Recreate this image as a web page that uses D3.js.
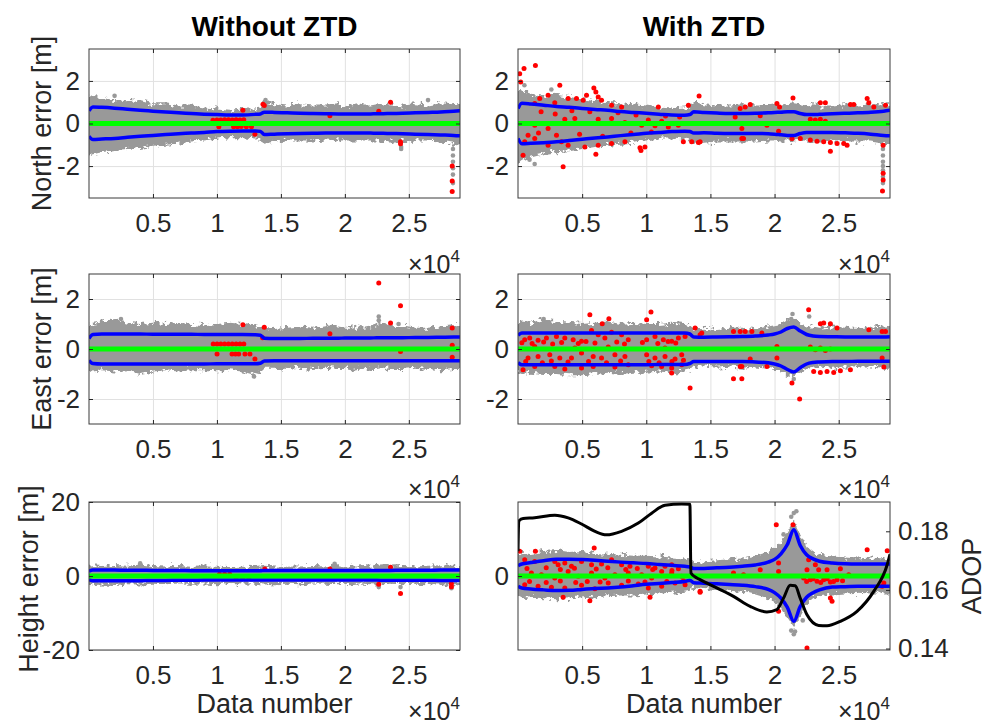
<!DOCTYPE html>
<html>
<head>
  <meta charset="utf-8">
  <title>Position errors with and without ZTD</title>
  <style>
    body { margin: 0; background: #fff; }
  </style>
</head>
<body>
  <script src="https://d3js.org/d3.v7.min.js"></script>
  <script>
    // ---- data ----
    var titles = ['Without ZTD', 'With ZTD'];
    var yLabels = ['North error [m]', 'East error [m]', 'Height error [m]'];
    var xTicks = [5000, 10000, 15000, 20000, 25000];
    var xTickLabels = ['0.5', '1', '1.5', '2', '2.5'];
    var adopTicks = [0.14, 0.16, 0.18];

    // data numbers where the envelopes / bounds were read
    var knots = [0, 300, 1000, 2000, 3000, 4000, 5000, 6000, 7000, 8000,
      9000, 10000, 11000, 12000, 13000, 13400, 13700, 14500, 15500, 16500,
      17500, 18500, 19500, 20000, 20500, 21000, 21500, 22000, 22500, 23000,
      23500, 24500, 25500, 26500, 27500, 28500, 29000];

    // North, without ZTD
    var northNoGrayUp = [1.3, 1.25, 1.2, 1.1, 1.05, 1.1, 0.95, 0.95, 0.85, 0.85,
      0.75, 0.7, 0.65, 0.7, 0.7, 0.75, 1.05, 0.9, 0.85, 0.9,
      0.85, 0.85, 0.9, 0.8, 0.85, 0.9, 0.85, 0.85, 0.9, 0.85,
      0.9, 0.85, 0.9, 0.85, 0.95, 0.9, 0.9];
    var northNoGrayLo = [-1.5, -1.45, -1.35, -1.25, -1.2, -1.15, -1.05, -1.0, -0.95, -0.85,
      -0.8, -0.7, -0.65, -0.65, -0.7, -0.7, -0.95, -0.85, -0.8, -0.8,
      -0.8, -0.75, -0.8, -0.8, -0.8, -0.8, -0.8, -0.8, -0.8, -0.8,
      -0.85, -0.85, -0.8, -0.8, -0.85, -0.95, -1.0];
    var northNoBlueUp = [0.6, 0.78, 0.76, 0.72, 0.67, 0.62, 0.58, 0.54, 0.5, 0.47,
      0.44, 0.42, 0.4, 0.4, 0.43, 0.45, 0.53, 0.52, 0.5, 0.48,
      0.47, 0.46, 0.45, 0.45, 0.45, 0.45, 0.45, 0.45, 0.46, 0.46,
      0.47, 0.48, 0.5, 0.52, 0.54, 0.58, 0.6];
    var northNoBlueLo = [-0.6, -0.75, -0.73, -0.7, -0.65, -0.6, -0.56, -0.52, -0.48, -0.45,
      -0.42, -0.38, -0.36, -0.35, -0.35, -0.37, -0.52, -0.5, -0.48, -0.47,
      -0.46, -0.45, -0.45, -0.45, -0.45, -0.45, -0.45, -0.45, -0.46, -0.46,
      -0.47, -0.48, -0.5, -0.52, -0.54, -0.56, -0.58];
    var northNoGrayOut = [[2000, 1.3], [13800, 1.1], [26500, 1.1], [24400, -1.1], [24400, -1.2],
      [28450, -1.2], [28450, -1.5], [28450, -1.8], [28450, -2.1], [28450, -2.4], [28450, -2.8]];
    var northNoRed = [[9690, 0.15], [10000, 0.17], [10300, 0.17], [10600, 0.18], [10900, 0.18],
      [11200, 0.17], [11500, 0.18], [11800, 0.17], [12100, 0.18], [10150, -0.15], [11300, -0.15],
      [11600, -0.15], [11900, -0.14], [12300, -0.15], [12700, -0.15], [12030, 0.62], [13600, 0.9],
      [13700, 0.85], [12970, -0.5], [18830, 0.36], [22650, 0.58], [23570, 1.0], [24350, -0.86],
      [24350, -0.95], [28390, -2.0], [28390, -2.7], [28390, -3.2]];

    // North, with ZTD
    var northZtdGrayUp = [1.6, 1.55, 1.4, 1.3, 1.35, 1.25, 1.15, 1.05, 0.95, 0.95,
      0.9, 0.85, 0.75, 0.7, 0.75, 0.8, 1.0, 0.9, 0.85, 0.85,
      0.9, 0.85, 0.85, 0.9, 0.9, 0.9, 0.95, 0.9, 0.85, 0.9,
      0.85, 0.85, 0.9, 0.85, 0.9, 0.9, 0.9];
    var northZtdGrayLo = [-1.9, -1.75, -1.6, -1.45, -1.35, -1.3, -1.2, -1.1, -1.0, -0.95,
      -0.9, -0.8, -0.7, -0.7, -0.75, -0.8, -0.95, -0.9, -0.85, -0.85,
      -0.85, -0.85, -0.8, -0.8, -0.85, -0.85, -0.85, -0.8, -0.8, -0.85,
      -0.85, -0.85, -0.85, -0.85, -0.85, -0.95, -1.0];
    var northZtdBlueUp = [0.7, 0.95, 0.92, 0.86, 0.8, 0.76, 0.71, 0.66, 0.62, 0.56,
      0.52, 0.48, 0.44, 0.4, 0.39, 0.42, 0.55, 0.52, 0.49, 0.47,
      0.47, 0.48, 0.5, 0.52, 0.53, 0.55, 0.55, 0.47, 0.42, 0.42,
      0.43, 0.46, 0.48, 0.5, 0.53, 0.58, 0.62];
    var northZtdBlueLo = [-0.7, -0.95, -0.93, -0.9, -0.86, -0.8, -0.74, -0.68, -0.63, -0.57,
      -0.52, -0.46, -0.42, -0.38, -0.36, -0.38, -0.45, -0.44, -0.46, -0.47,
      -0.47, -0.47, -0.48, -0.5, -0.53, -0.56, -0.56, -0.47, -0.42, -0.42,
      -0.42, -0.42, -0.44, -0.46, -0.5, -0.56, -0.58];
    var northZtdGrayOut = [[500, 1.8], [1300, -1.9], [900, -1.7], [2600, 1.6],
      [28450, -1.2], [28450, -1.5], [28450, -1.8], [28450, -2.0], [28450, -2.2], [28450, -2.5], [28450, -2.8]];
    var northZtdRed = [[133, 2.34], [471, 2.58], [1357, 2.73], [211, 1.95], [3258, 1.8], [5914, 1.67],
      [6070, 1.48], [14117, 1.29], [3518, -2.03], [6070, -1.45], [9508, -1.14], [9586, -1.27], [393, -1.49],
      [1305, 0.94], [1695, 1.17], [2867, 0.97], [3909, 1.17], [4560, 1.17], [5081, 1.09], [6513, 1.09],
      [7294, 0.86], [8076, 0.78], [10940, 0.78], [13284, 0.86], [2346, 1.33], [5341, 1.33], [6253, 1.25],
      [3648, 0.2], [4430, 0.24], [6253, 0.2], [7294, 0.24], [8336, 0.05], [9638, -0.08], [10680, -0.11],
      [11720, -0.16], [12500, -0.08], [10159, 0.16], [11200, 0.11], [2346, -0.23], [1305, -0.08],
      [784, -0.55], [1305, -0.7], [2346, -1.02], [3388, -0.86], [3909, -1.02], [5211, -1.1], [6253, -1.02],
      [7294, -0.94], [8336, -0.86], [9898, -1.1], [12890, -0.86], [13540, -0.86], [14065, -0.89], [523, -0.86],
      [1800, 0.55], [2900, 0.45], [4200, 0.6], [5600, 0.55], [7800, 0.5], [9200, 0.4], [11500, 0.35],
      [12600, 0.3], [1600, -0.45], [3000, -0.55], [4800, -0.5], [6600, -0.6], [8800, -0.45], [10400, -0.4],
      [21438, 1.2], [27219, 1.17], [27349, 0.98], [23570, 0.98], [23961, 0.98], [18102, 0.89], [17711, 0.78],
      [17320, 0.7], [20185, 0.94], [20393, 0.78], [25914, 0.89], [26175, 0.89], [27740, 0.78], [28651, 0.86],
      [18883, 0.36], [16929, 0.3], [22789, 0.2], [23180, 0.16], [23570, 0.2], [23961, 0.11], [19403, -0.08],
      [17450, -0.23], [17450, -0.7], [17580, -0.7], [20315, -0.36], [21357, -0.7], [22008, -0.7],
      [22789, -0.78], [23310, -0.83], [23831, -0.86], [24352, -0.89], [24872, -0.94], [25393, -0.94],
      [24352, -1.3], [25653, -1.02], [14195, -0.86], [28466, -1.02], [28466, -2.34], [28466, -2.66], [28414, -3.17]];

    // East, without ZTD
    var eastNoGrayUp = [1.0, 1.05, 1.1, 1.2, 1.05, 1.0, 1.05, 1.0, 1.05, 1.0,
      0.95, 1.0, 1.05, 1.0, 0.95, 0.9, 0.85, 0.8, 0.85, 0.9,
      0.85, 0.95, 0.9, 0.85, 0.85, 0.9, 0.85, 0.9, 1.0, 1.1,
      0.9, 0.95, 0.85, 0.85, 0.9, 0.95, 0.95];
    var eastNoGrayLo = [-0.85, -0.9, -0.85, -0.9, -0.85, -1.0, -0.9, -0.85, -0.9, -0.85,
      -0.85, -0.85, -0.85, -0.9, -1.05, -0.9, -0.75, -0.75, -0.8, -0.75,
      -0.8, -0.75, -0.8, -0.8, -0.85, -0.8, -0.75, -0.8, -0.8, -0.75,
      -0.8, -0.8, -0.75, -0.8, -0.85, -0.8, -0.8];
    var eastNoBlueUp = [0.42, 0.58, 0.6, 0.6, 0.6, 0.6, 0.59, 0.59, 0.59, 0.59,
      0.58, 0.58, 0.58, 0.58, 0.57, 0.55, 0.43, 0.42, 0.42, 0.42,
      0.43, 0.43, 0.43, 0.44, 0.44, 0.44, 0.44, 0.44, 0.45, 0.45,
      0.45, 0.45, 0.46, 0.46, 0.47, 0.48, 0.48];
    var eastNoBlueLo = [-0.45, -0.58, -0.6, -0.6, -0.6, -0.6, -0.6, -0.6, -0.6, -0.6,
      -0.6, -0.59, -0.59, -0.59, -0.59, -0.57, -0.48, -0.47, -0.47, -0.47,
      -0.47, -0.47, -0.47, -0.47, -0.47, -0.47, -0.47, -0.47, -0.47, -0.47,
      -0.47, -0.47, -0.47, -0.47, -0.47, -0.47, -0.47];
    var eastNoGrayOut = [[22650, 1.3], [22650, 1.15], [12900, -1.1], [24200, 1.0], [2500, 1.2]];
    var eastNoRed = [[9710, 0.2], [10010, 0.2], [10300, 0.2], [10600, 0.2], [10900, 0.2], [11200, 0.2],
      [11500, 0.2], [11800, 0.2], [12100, 0.2], [10010, -0.2], [11180, -0.2], [11450, -0.2], [11700, -0.2],
      [12190, -0.2], [12580, -0.2], [12970, -0.4], [12030, 0.97], [13700, 0.87], [13570, 0.45], [18830, 0.61],
      [22650, 2.64], [23570, 1.04], [24350, 1.73], [24350, -0.1], [28390, 0.84], [28390, 0.15], [28390, -0.33]];

    // East, with ZTD
    var eastZtdGrayUp = [1.05, 1.1, 1.05, 1.2, 1.1, 1.05, 1.0, 1.05, 1.1, 1.0,
      1.05, 1.0, 1.0, 1.05, 1.0, 0.95, 0.8, 0.85, 0.8, 0.85,
      0.85, 0.8, 0.9, 0.95, 1.0, 1.15, 1.25, 1.05, 0.9, 0.9,
      0.85, 0.9, 0.85, 0.85, 0.85, 0.9, 0.9];
    var eastZtdGrayLo = [-0.95, -1.0, -0.95, -1.0, -1.0, -1.05, -1.05, -1.0, -0.95, -1.0,
      -0.95, -0.95, -0.9, -0.95, -0.9, -0.85, -0.7, -0.7, -0.75, -0.7,
      -0.75, -0.7, -0.75, -0.8, -0.9, -1.05, -1.1, -0.95, -0.8, -0.75,
      -0.7, -0.75, -0.7, -0.7, -0.7, -0.75, -0.75];
    var eastZtdBlueUp = [0.55, 0.64, 0.64, 0.64, 0.64, 0.64, 0.64, 0.64, 0.64, 0.64,
      0.64, 0.64, 0.64, 0.64, 0.64, 0.6, 0.48, 0.47, 0.48, 0.49,
      0.5, 0.52, 0.56, 0.6, 0.68, 0.82, 0.88, 0.72, 0.58, 0.52,
      0.5, 0.49, 0.48, 0.48, 0.48, 0.48, 0.49];
    var eastZtdBlueLo = [-0.55, -0.63, -0.63, -0.63, -0.63, -0.63, -0.63, -0.63, -0.63, -0.63,
      -0.63, -0.63, -0.62, -0.62, -0.62, -0.58, -0.5, -0.5, -0.5, -0.5,
      -0.5, -0.52, -0.55, -0.6, -0.68, -0.82, -0.92, -0.75, -0.6, -0.54,
      -0.52, -0.5, -0.5, -0.49, -0.49, -0.49, -0.49];
    var eastZtdGrayOut = [[21300, 1.2], [21400, 1.4], [21500, -1.2], [22700, 1.3], [2000, 1.2]];
    var eastZtdRed = [[5602, 1.37], [10367, 1.48], [6565, 1.01], [7086, 1.21], [10028, 1.17], [13414, -1.56],
      [11982, -0.96], [13805, 0.84], [14195, 0.57],
      [523, 0.37], [914, 0.44], [1565, 0.35], [2216, 0.44], [2997, 0.5], [3648, 0.44], [4300, 0.37],
      [4951, 0.31], [5732, 0.74], [6253, 0.57], [6773, 0.44], [7294, 0.67], [8076, 0.57], [8596, 0.37],
      [10028, 0.37], [10680, 0.5], [11331, 0.37], [11982, 0.31], [12503, 0.44], [13024, 0.5],
      [784, -0.36], [1565, -0.3], [2477, -0.23], [3258, -0.36], [4170, -0.36], [4951, -0.16], [5862, -0.3],
      [6513, -0.36], [7555, -0.23], [8336, -0.3], [10028, -0.23], [10680, -0.36], [11461, -0.3],
      [12242, -0.4], [12763, -0.23],
      [393, -0.83], [1305, -0.7], [2867, -0.7], [3648, -0.8], [4951, -0.76], [5862, -0.7], [7555, -0.72],
      [8596, -0.63], [10419, -0.67], [11200, -0.7], [11982, -0.76], [12763, -0.63],
      [1305, 0.1], [4430, 0.04], [7034, 0.08], [11461, 0.04],
      [300, 0.25], [1100, 0.22], [2000, 0.28], [2700, 0.2], [3400, 0.26], [4700, 0.22], [5300, 0.3],
      [6000, 0.24], [7700, 0.28], [8300, 0.2], [9700, 0.26], [10900, 0.22], [11700, 0.3], [12300, 0.24],
      [600, -0.5], [1900, -0.55], [2600, -0.48], [3900, -0.52], [5500, -0.5], [6900, -0.55], [8000, -0.48],
      [10200, -0.5], [11000, -0.55], [12000, -0.5], [12900, -0.45],
      [22659, 1.57], [23570, 1.01], [23831, 1.04], [24352, 1.01], [24872, 0.84], [16799, 0.7], [17320, 0.7],
      [17711, 0.7], [18232, 0.7], [19013, 0.64], [28387, 0.7], [28648, 0.7], [27349, 0.77], [14325, 0.64],
      [20185, 0.1], [22789, 0.08], [23180, -0.03], [23570, 0.04], [23961, -0.06], [24352, 0.0],
      [18102, -0.4], [20185, -0.36], [17320, -0.7], [17450, -0.7], [19403, -0.7], [16799, -1.19],
      [17450, -1.19], [23050, -0.9], [23570, -0.94], [24091, -0.9], [24612, -0.94], [25132, -0.87],
      [25914, -0.83], [21357, -1.36], [21956, -2.0], [28387, -0.36], [28518, -0.72]];

    // Height, without ZTD
    var heightNoGrayUp = [2.8, 2.9, 2.7, 3.0, 2.8, 3.1, 2.7, 2.6, 2.7, 2.5,
      2.6, 2.5, 2.4, 2.5, 2.4, 2.6, 2.8, 2.6, 2.5, 2.6,
      2.7, 2.6, 2.9, 2.6, 2.5, 2.6, 2.7, 2.5, 2.8, 2.9,
      2.6, 2.7, 2.6, 2.8, 2.9, 2.8, 2.7];
    var heightNoGrayLo = [-2.4, -2.5, -2.3, -2.4, -2.2, -2.3, -2.1, -2.2, -2.0, -2.1,
      -2.0, -2.2, -1.9, -2.0, -2.1, -2.2, -2.3, -2.2, -2.1, -2.2,
      -2.0, -2.1, -2.2, -2.1, -2.2, -2.0, -2.1, -2.2, -2.3, -2.2,
      -2.1, -2.2, -2.1, -2.2, -2.3, -2.2, -2.2];
    var heightNoBlueUp = [1.3, 1.6, 1.6, 1.6, 1.55, 1.55, 1.5, 1.5, 1.5, 1.45,
      1.45, 1.4, 1.4, 1.4, 1.4, 1.4, 1.5, 1.5, 1.5, 1.5,
      1.5, 1.5, 1.5, 1.5, 1.5, 1.5, 1.5, 1.5, 1.5, 1.5,
      1.5, 1.55, 1.55, 1.55, 1.6, 1.6, 1.6];
    var heightNoBlueLo = [-1.0, -1.3, -1.3, -1.3, -1.25, -1.25, -1.2, -1.2, -1.15, -1.15,
      -1.1, -1.1, -1.05, -1.05, -1.05, -1.05, -1.1, -1.1, -1.1, -1.1,
      -1.1, -1.1, -1.1, -1.1, -1.1, -1.1, -1.1, -1.1, -1.1, -1.15,
      -1.15, -1.15, -1.15, -1.15, -1.2, -1.2, -1.2];
    var heightNoGrayOut = [[22650, -3.0], [24350, -3.0], [19200, 3.3], [28330, -3.3], [4000, 3.4]];
    var heightNoRed = [[13750, 1.9], [18830, 1.9], [23570, 2.35], [22650, -2.2], [24350, -4.7],
      [28330, -2.0], [28330, -2.9], [10200, 0.5], [10600, 0.5], [11000, 0.5], [11500, -0.5],
      [12000, -0.5], [12500, -0.5]];

    // Height, with ZTD
    var heightZtdGrayUp = [2.3, 2.6, 2.5, 2.7, 2.8, 2.6, 2.7, 2.5, 2.4, 2.3,
      2.2, 2.2, 2.1, 2.0, 1.9, 1.8, 1.5, 1.6, 1.7, 1.8,
      1.9, 2.2, 2.6, 3.0, 3.6, 4.8, 6.0, 4.5, 3.2, 2.6,
      2.3, 2.1, 2.0, 1.9, 2.0, 1.9, 1.9];
    var heightZtdGrayLo = [-2.2, -2.4, -2.3, -2.4, -2.5, -2.4, -2.3, -2.3, -2.2, -2.1,
      -2.1, -2.0, -1.9, -1.8, -1.7, -1.6, -1.3, -1.4, -1.5, -1.6,
      -1.7, -2.0, -2.4, -2.8, -3.4, -4.6, -5.6, -4.3, -3.0, -2.4,
      -2.2, -2.0, -1.9, -1.8, -1.9, -1.9, -1.9];
    var heightZtdBlueUp = [1.1, 1.3, 1.45, 1.65, 1.8, 1.82, 1.78, 1.7, 1.6, 1.5,
      1.42, 1.35, 1.25, 1.15, 1.05, 0.98, 0.82, 0.82, 0.88, 0.95,
      1.05, 1.2, 1.5, 1.8, 2.4, 3.4, 5.0, 3.3, 2.3, 1.85,
      1.6, 1.4, 1.32, 1.3, 1.3, 1.3, 1.3];
    var heightZtdBlueLo = [-1.1, -1.3, -1.4, -1.5, -1.58, -1.55, -1.45, -1.35, -1.3, -1.2,
      -1.05, -0.9, -0.8, -0.7, -0.6, -0.45, -0.72, -0.78, -0.85, -0.92,
      -1.0, -1.15, -1.45, -1.8, -2.4, -3.4, -4.9, -3.3, -2.3, -1.8,
      -1.5, -1.2, -1.15, -1.1, -1.1, -1.1, -1.1];
    var heightZtdGrayOut = [[21500, 6.8], [21700, 7.0], [21300, 6.4], [21500, -6.3], [21300, -5.9],
      [20700, 4.5], [22200, -4.8], [21600, -6.0]];
    var heightZtdRed = [[5940, 3.03], [1357, 2.67], [133, 2.67],
      [523, 1.76], [1305, 1.58], [2867, 1.58], [3128, 1.22], [3648, 1.4], [4170, 1.05], [4951, 1.58],
      [5732, 1.22], [6513, 1.3], [7294, 1.76], [8076, 1.22], [8727, 1.05], [10159, 1.05], [10680, 0.86],
      [11461, 1.05], [11982, 1.22], [12503, 0.79],
      [1044, 0.32], [1825, 0.14], [2867, -0.22], [3909, 0.5], [4690, -0.04], [5732, 0.32], [6773, -0.22],
      [7555, 0.14], [8596, 0.32], [9638, 0.14], [10419, -0.22], [11200, 0.5], [11982, 0.32], [12763, -0.04],
      [523, -0.94], [1565, -1.12], [2607, -1.22], [3648, -1.3], [4951, -1.01], [5992, -1.37], [7034, -0.76],
      [8076, -1.01], [9378, -0.86], [10159, -1.3], [11200, -1.12], [12242, -0.76], [13024, -0.94],
      [700, 0.8], [2200, 0.9], [3300, 0.7], [4400, 0.85], [6100, 0.75], [7000, 0.9], [8400, 0.7],
      [9300, 0.8], [10500, 0.7], [12000, 0.6], [900, -0.6], [2200, -0.7], [3300, -0.55], [4500, -0.7],
      [5400, -0.6], [6400, -0.65], [8600, -0.55], [9900, -0.65], [11600, -0.6], [12900, -0.5],
      [3518, -2.3], [5602, -2.67], [10289, -2.3], [14195, -1.76],
      [20133, 5.55], [21435, 5.55], [27219, 2.85], [28782, 2.74], [22659, 1.76], [18883, 0.68], [20315, 1.4],
      [20315, 0.5], [22529, 0.68], [23180, 1.22], [23440, 0.68], [24091, 0.68], [25132, 0.79],
      [22268, -0.22], [22789, -0.4], [23310, -0.58], [23831, -0.4], [24352, -0.65], [24872, -0.4],
      [22500, -0.6], [23000, -0.3], [23600, -0.7], [24100, -0.3], [24600, -0.6], [25300, -0.5],
      [14195, -1.66], [24352, -2.38], [24482, -2.74], [20315, -3.82], [22529, -7.78], [16799, 0.32],
      [17580, 0.14], [25784, 0.14], [28387, -1.12], [28518, -0.76]];

    // ADOP (right axis of the height / with ZTD panel)
    var adopX = [0, 60, 400, 1300, 2870, 3910, 4950, 6000, 6900, 8070,
      9380, 10420, 11460, 12760, 13400, 13480, 13940, 14190, 15490, 16800,
      18100, 19400, 20180, 20700, 21220, 21610, 22000, 22530, 23440, 24090,
      25130, 26430, 27730, 28780, 29000];
    var adopY = [0.1732, 0.1835, 0.1844, 0.1846, 0.1855, 0.1846, 0.1825, 0.18, 0.1788, 0.18,
      0.1828, 0.1862, 0.1889, 0.1893, 0.1892, 0.1658, 0.1641, 0.1635, 0.1607, 0.1578,
      0.1544, 0.1525, 0.1533, 0.1572, 0.1616, 0.1614, 0.1572, 0.1515, 0.1479, 0.1478,
      0.1493, 0.1527, 0.1595, 0.1686, 0.1722];

    // ---- layout ----
    var FONT = '"Liberation Sans", Arial, Helvetica, sans-serif';
    var INK = '#262626';
    var width = 986, height = 726;
    var colX = [[89, 460], [518, 890]];
    var rowY = [[49, 198], [274, 424], [502, 650]];
    var labelX = [51, 51, 38];
    var expY = [273, 498, 720];
    var xDomain = [0, 29000];

    var panels = [
      { c: 0, r: 0, yDom: [-3.5, 3.5], yTicks: [-2, 0, 2], up: northNoGrayUp, lo: northNoGrayLo, bUp: northNoBlueUp, bLo: northNoBlueLo, out: northNoGrayOut, red: northNoRed },
      { c: 1, r: 0, yDom: [-3.5, 3.5], yTicks: [-2, 0, 2], up: northZtdGrayUp, lo: northZtdGrayLo, bUp: northZtdBlueUp, bLo: northZtdBlueLo, out: northZtdGrayOut, red: northZtdRed },
      { c: 0, r: 1, yDom: [-3, 3], yTicks: [-2, 0, 2], up: eastNoGrayUp, lo: eastNoGrayLo, bUp: eastNoBlueUp, bLo: eastNoBlueLo, out: eastNoGrayOut, red: eastNoRed },
      { c: 1, r: 1, yDom: [-3, 3], yTicks: [-2, 0, 2], up: eastZtdGrayUp, lo: eastZtdGrayLo, bUp: eastZtdBlueUp, bLo: eastZtdBlueLo, out: eastZtdGrayOut, red: eastZtdRed },
      { c: 0, r: 2, yDom: [-20, 20], yTicks: [-20, 0, 20], up: heightNoGrayUp, lo: heightNoGrayLo, bUp: heightNoBlueUp, bLo: heightNoBlueLo, out: heightNoGrayOut, red: heightNoRed },
      { c: 1, r: 2, yDom: [-8, 8], yTicks: [0], up: heightZtdGrayUp, lo: heightZtdGrayLo, bUp: heightZtdBlueUp, bLo: heightZtdBlueLo, out: heightZtdGrayOut, red: heightZtdRed, adop: true }
    ];

    var svg = d3.select('body').append('svg')
      .attr('width', width)
      .attr('height', height)
      .style('font-family', FONT);

    var defs = svg.append('defs');

    // fuzzy outline for the dense grey point cloud (vertical jitter of the edge only)
    var rag = defs.append('filter').attr('id', 'rag')
      .attr('x', '-2%').attr('y', '-60%').attr('width', '104%').attr('height', '220%');
    rag.append('feTurbulence').attr('type', 'fractalNoise')
      .attr('baseFrequency', '0.2 0.25').attr('numOctaves', 3).attr('seed', 7).attr('result', 'n');
    rag.append('feColorMatrix').attr('in', 'n').attr('type', 'matrix')
      .attr('values', '0 0 0 0 0.5  0 1 0 0 0  0 0 0 0 0  0 0 0 0 1').attr('result', 'm');
    rag.append('feDisplacementMap').attr('in', 'SourceGraphic').attr('in2', 'm')
      .attr('scale', 11).attr('xChannelSelector', 'R').attr('yChannelSelector', 'G');

    function styleAxis(a, fs) {
      a.attr('font-size', null).attr('font-family', null);
      a.select('.domain').remove();
      a.selectAll('line').attr('stroke', INK).attr('stroke-width', 1);
      a.selectAll('text').attr('font-size', fs).attr('fill', INK).style('font-family', FONT);
    }

    panels.forEach(function (p, i) {
      var x0 = colX[p.c][0], x1 = colX[p.c][1];
      var y0 = rowY[p.r][0], y1 = rowY[p.r][1];
      var x = d3.scaleLinear().domain(xDomain).range([x0, x1]);
      var y = d3.scaleLinear().domain(p.yDom).range([y1, y0]);
      var g = svg.append('g');

      defs.append('clipPath').attr('id', 'clip' + i)
        .append('rect').attr('x', x0).attr('y', y0).attr('width', x1 - x0).attr('height', y1 - y0);

      // grid
      g.append('g').attr('transform', 'translate(0,' + y1 + ')')
        .call(d3.axisBottom(x).tickValues(xTicks).tickSize(-(y1 - y0)).tickFormat(''))
        .call(function (a) { a.select('.domain').remove(); a.selectAll('line').attr('stroke', '#e1e1e1'); });
      if (!p.adop) {
        g.append('g').attr('transform', 'translate(' + x0 + ',0)')
          .call(d3.axisLeft(y).tickValues(p.yTicks).tickSize(-(x1 - x0)).tickFormat(''))
          .call(function (a) { a.select('.domain').remove(); a.selectAll('line').attr('stroke', '#e1e1e1'); });
      }

      var plot = g.append('g').attr('clip-path', 'url(#clip' + i + ')');

      // grey cloud
      plot.append('path').datum(knots)
        .attr('d', d3.area().x(function (d) { return x(d); })
          .y0(function (d, j) { return y(p.lo[j]); })
          .y1(function (d, j) { return y(p.up[j]); }))
        .attr('fill', '#999999')
        .attr('filter', 'url(#rag)');
      plot.selectAll('circle.out').data(p.out).enter().append('circle')
        .attr('class', 'out')
        .attr('cx', function (d) { return x(d[0]); })
        .attr('cy', function (d) { return y(d[1]); })
        .attr('r', 2.3).attr('fill', '#999999');

      // red points
      plot.selectAll('circle.red').data(p.red).enter().append('circle')
        .attr('class', 'red')
        .attr('cx', function (d) { return x(d[0]); })
        .attr('cy', function (d) { return y(d[1]); })
        .attr('r', 2.5).attr('fill', '#ff0000');

      // blue bounds
      [p.bUp, p.bLo].forEach(function (arr) {
        plot.append('path').datum(knots)
          .attr('d', d3.line().curve(d3.curveMonotoneX)
            .x(function (d) { return x(d); })
            .y(function (d, j) { return y(arr[j]); }))
          .attr('fill', 'none').attr('stroke', '#0000ff').attr('stroke-width', 3.5);
      });

      // zero line
      plot.append('line')
        .attr('x1', x(xDomain[0])).attr('x2', x(xDomain[1]))
        .attr('y1', y(0)).attr('y2', y(0))
        .attr('stroke', '#00ff00').attr('stroke-width', 5);

      var yR = null;
      if (p.adop) {
        yR = d3.scaleLinear().domain([0.1395, 0.19]).range([y1, y0]);
        plot.append('path').datum(adopX)
          .attr('d', d3.line().curve(d3.curveMonotoneX)
            .x(function (d) { return x(d); })
            .y(function (d, j) { return yR(adopY[j]); }))
          .attr('fill', 'none').attr('stroke', '#000').attr('stroke-width', 3);
      }

      // box
      g.append('rect').attr('x', x0).attr('y', y0).attr('width', x1 - x0).attr('height', y1 - y0)
        .attr('fill', 'none').attr('stroke', '#3a3a3a').attr('stroke-width', 1);

      // axes
      g.append('g').attr('transform', 'translate(0,' + y1 + ')')
        .call(d3.axisBottom(x).tickValues(xTicks)
          .tickFormat(function (d, k) { return xTickLabels[k]; })
          .tickSizeInner(-4).tickSizeOuter(0).tickPadding(16))
        .call(function (a) { styleAxis(a, 26); });
      g.append('g').attr('transform', 'translate(0,' + y0 + ')')
        .call(d3.axisTop(x).tickValues(xTicks).tickFormat('').tickSizeInner(-4).tickSizeOuter(0))
        .call(function (a) { styleAxis(a, 26); });
      g.append('g').attr('transform', 'translate(' + x0 + ',0)')
        .call(d3.axisLeft(y).tickValues(p.yTicks)
          .tickFormat(function (d) { return String(d); })
          .tickSizeInner(-4).tickSizeOuter(0).tickPadding(9))
        .call(function (a) { styleAxis(a, 26); });
      if (yR) {
        g.append('g').attr('transform', 'translate(' + x1 + ',0)')
          .call(d3.axisRight(yR).tickValues(adopTicks)
            .tickFormat(d3.format('.2f'))
            .tickSizeInner(-4).tickSizeOuter(0).tickPadding(8))
          .call(function (a) { styleAxis(a, 26); });
        svg.append('text')
          .attr('transform', 'translate(981,' + ((y0 + y1) / 2) + ') rotate(-90)')
          .attr('text-anchor', 'middle')
          .attr('font-size', 27).attr('fill', INK)
          .text('ADOP');
      } else {
        g.append('g').attr('transform', 'translate(' + x1 + ',0)')
          .call(d3.axisRight(y).tickValues(p.yTicks).tickFormat('').tickSizeInner(-4).tickSizeOuter(0))
          .call(function (a) { styleAxis(a, 26); });
      }

      // x10^4 exponent
      var ex = svg.append('text')
        .attr('x', x1).attr('y', expY[p.r])
        .attr('text-anchor', 'end')
        .attr('font-size', 25).attr('fill', INK);
      ex.append('tspan').text('\u00d710');
      ex.append('tspan').attr('font-size', 17).attr('dy', -11).text('4');

      if (p.r === 0) {
        svg.append('text')
          .attr('x', (x0 + x1) / 2).attr('y', 36)
          .attr('text-anchor', 'middle')
          .attr('font-size', 28).attr('font-weight', 'bold').attr('fill', '#000')
          .text(titles[p.c]);
      }
      if (p.c === 0) {
        svg.append('text')
          .attr('transform', 'translate(' + labelX[p.r] + ',' + ((y0 + y1) / 2 + (p.r === 2 ? 3 : 0)) + ') rotate(-90)')
          .attr('text-anchor', 'middle')
          .attr('font-size', 27).attr('fill', INK)
          .text(yLabels[p.r]);
      }
      if (p.r === 2) {
        svg.append('text')
          .attr('x', (x0 + x1) / 2).attr('y', 713)
          .attr('text-anchor', 'middle')
          .attr('font-size', 27).attr('fill', INK)
          .text('Data number');
      }
    });
  </script>
</body>
</html>
